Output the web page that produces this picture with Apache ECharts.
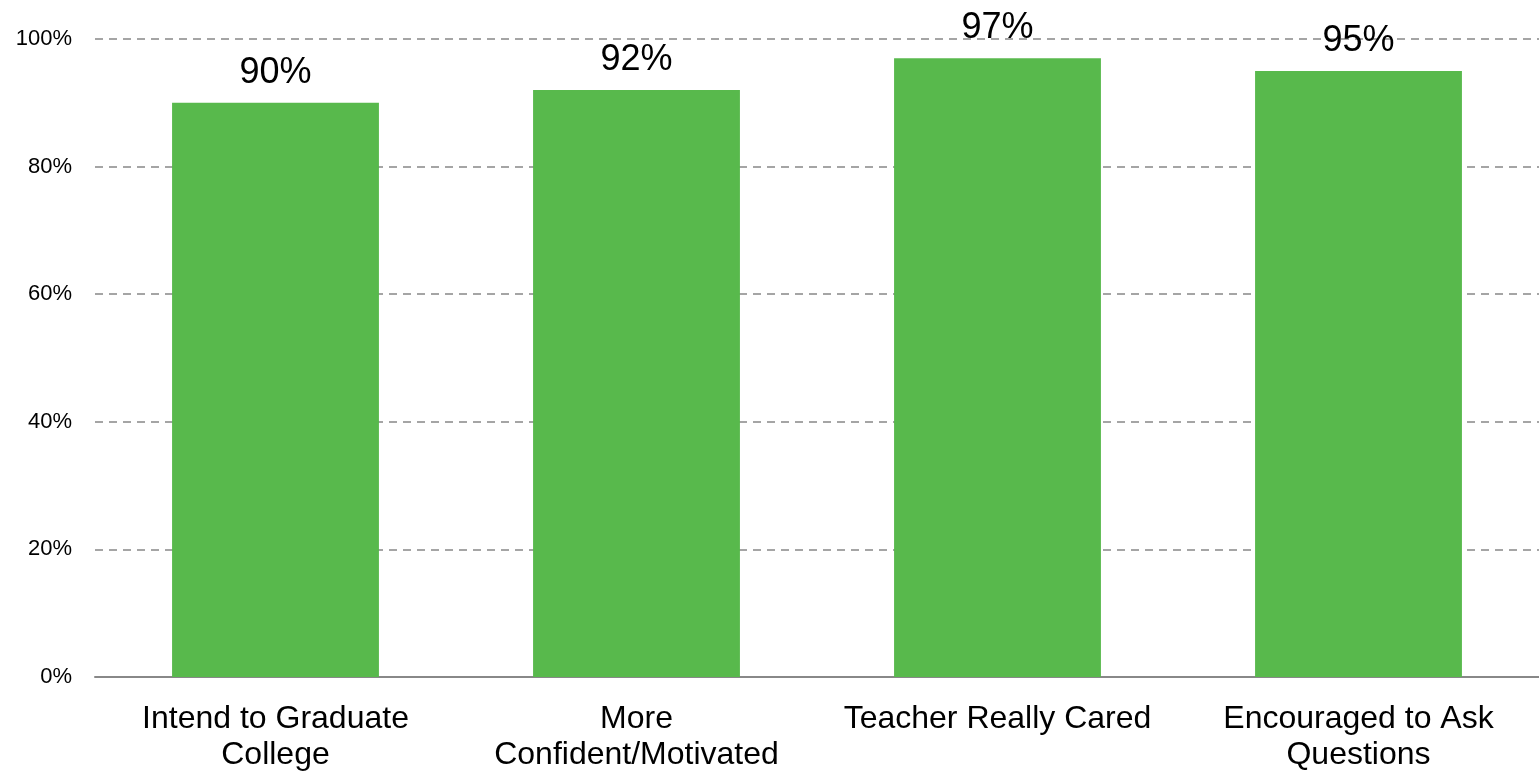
<!DOCTYPE html>
<html><head><meta charset="utf-8">
<script src="https://cdn.jsdelivr.net/npm/echarts@6/dist/echarts.min.js"></script>
<style>html,body{margin:0;padding:0;background:#fff;overflow:hidden}#c{width:1539px;height:773px}</style>
</head><body><div id="c"></div>
<script>
const categories = ['Intend to Graduate\nCollege', 'More\nConfident/Motivated', 'Teacher Really Cared', 'Encouraged to Ask\nQuestions'];
const values = [90, 92, 97, 95];
const yTicks = [0, 20, 40, 60, 80, 100];

const chart = echarts.init(document.getElementById('c'));
chart.setOption({
  animation: false,
  textStyle: { fontFamily: 'Liberation Sans, Arial, sans-serif' },
  grid: { left: 95, right: 0, top: 39, bottom: 91, containLabel: false },
  xAxis: {
    type: 'category', data: categories,
    axisLine: { lineStyle: { color: '#888', width: 2 } },
    axisTick: { show: false },
    axisLabel: { color: '#000', fontSize: 32, lineHeight: 36, margin: 24, interval: 0 }
  },
  yAxis: {
    type: 'value', min: 0, max: 100, interval: 20,
    axisLine: { show: false }, axisTick: { show: false },
    axisLabel: { color: '#000', fontSize: 22, margin: 23, formatter: v => yTicks.includes(v) ? v + '%' : '' },
    splitLine: { lineStyle: { color: '#888', type: [8, 6], width: 1.5 } }
  },
  series: [{
    type: 'bar', data: values, barWidth: '57.3%',
    itemStyle: { color: '#58B94C' },
    label: { show: true, position: 'top', distance: 12, color: '#000', fontSize: 36, formatter: p => p.value + '%' }
  }]
});
</script></body></html>
